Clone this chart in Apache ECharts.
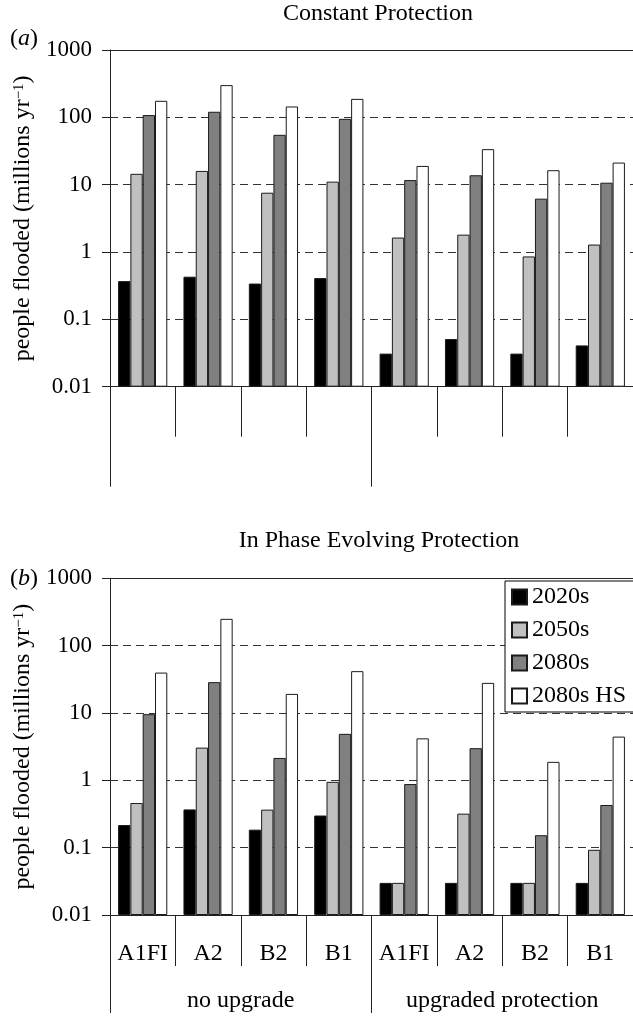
<!DOCTYPE html>
<html>
<head>
<meta charset="utf-8">
<script src="https://cdn.jsdelivr.net/npm/echarts@6/dist/echarts.min.js"></script>
<style>
html,body{margin:0;padding:0;background:#fff;}
#chart{width:633px;height:1016px;}
</style>
</head>
<body>
<div id="chart"></div>
<script>
const categories = ['A1FI', 'A2', 'B2', 'B1', 'A1FI', 'A2', 'B2', 'B1'];
const groups = ['no upgrade', 'upgraded protection'];
const seriesNames = ['2020s', '2050s', '2080s', '2080s HS'];
const yTickLabels = ['0.01', '0.1', '1', '10', '100', '1000'];

// (a) Constant Protection
const cp2020s = [0.37, 0.43, 0.34, 0.41, 0.031, 0.051, 0.031, 0.041];
const cp2050s = [14.5, 16, 7.6, 11.1, 1.64, 1.81, 0.86, 1.29];
const cp2080s = [108, 121, 55, 95, 11.7, 13.8, 6.2, 10.7];
const cp2080sHS = [176, 301, 145, 188, 19, 33.7, 16.4, 21.3];

// (b) In Phase Evolving Protection
const ip2020s = [0.217, 0.37, 0.185, 0.30, 0.03, 0.03, 0.03, 0.03];
const ip2050s = [0.46, 3.06, 0.367, 0.95, 0.03, 0.32, 0.03, 0.093];
const ip2080s = [9.6, 28.7, 2.15, 4.9, 0.88, 3.0, 0.153, 0.43];
const ip2080sHS = [39.8, 250, 19.2, 41.8, 4.2, 28, 1.88, 4.46];

const FONT = "'Liberation Serif', 'Times New Roman', serif";
const LINE = '#222';
const colors = ['#000000', '#c0c0c0', '#808080', '#ffffff'];

const chart = echarts.init(document.getElementById('chart'), null, {renderer: 'canvas'});

function yAxis(gridIndex) {
  return {
    type: 'log', gridIndex: gridIndex, logBase: 10, min: 0.01, max: 1000, startValue: 0.01,
    axisLine: {show: true, lineStyle: {color: LINE, width: 1}},
    axisTick: {show: true, length: 8, lineStyle: {color: LINE, width: 1}},
    axisLabel: {
      margin: 18, fontSize: 23, fontFamily: FONT, color: '#000',
      formatter: function (v) { return yTickLabels[Math.round(Math.log10(v)) + 2]; }
    },
    splitLine: {show: true, lineStyle: {type: [8, 5], color: '#333', width: 1}},
    name: 'people flooded (millions yr{sup|\u22121})',
    nameLocation: 'middle', nameRotate: 90, nameGap: 70,
    nameTextStyle: {
      fontSize: 24, fontFamily: FONT, color: '#000',
      rich: {sup: {fontSize: 15, fontFamily: FONT, color: '#000', verticalAlign: 'top', lineHeight: 14}}
    }
  };
}

function catAxis(gridIndex, showLabel, tickLen) {
  return {
    type: 'category', gridIndex: gridIndex, data: categories, position: 'bottom',
    axisLine: {show: true, onZero: false, lineStyle: {color: LINE, width: 1}},
    axisTick: {show: true, interval: 0, length: tickLen, lineStyle: {color: LINE, width: 1}},
    axisLabel: {show: showLabel, interval: 0, margin: 27, fontSize: 24, fontFamily: FONT, color: '#000'},
    splitLine: {show: false}
  };
}
function groupAxis(gridIndex, showLabel, tickLen) {
  return {
    type: 'category', gridIndex: gridIndex, data: groups, position: 'bottom',
    axisLine: {show: false, onZero: false},
    axisTick: {show: true, interval: 0, length: tickLen, lineStyle: {color: LINE, width: 1}},
    axisLabel: {show: showLabel, interval: 0, margin: 74, fontSize: 24, fontFamily: FONT, color: '#000'},
    splitLine: {show: false}
  };
}
function frameAxis(gridIndex) {
  return {
    type: 'category', gridIndex: gridIndex, data: categories, position: 'top',
    axisLine: {show: true, onZero: false, lineStyle: {color: LINE, width: 1}},
    axisTick: {show: false}, axisLabel: {show: false}, splitLine: {show: false}
  };
}

const panelData = [
  [cp2020s, cp2050s, cp2080s, cp2080sHS],
  [ip2020s, ip2050s, ip2080s, ip2080sHS]
];
const series = [];
panelData.forEach(function (panel, p) {
  panel.forEach(function (vals, s) {
    series.push({
      type: 'bar', name: seriesNames[s],
      xAxisIndex: p * 3, yAxisIndex: p,
      data: vals, barWidth: 12.3, barGap: '0%',
      itemStyle: {color: colors[s], borderColor: '#1a1a1a', borderWidth: 1},
      emphasis: {disabled: true},
      animation: false
    });
  });
});

const option = {
  animation: false,
  backgroundColor: '#fff',
  textStyle: {fontFamily: FONT},
  title: [
    {text: 'Constant Protection', left: 378, top: 2, textAlign: 'center', padding: 0,
      textStyle: {fontSize: 24, fontWeight: 'normal', fontFamily: FONT, color: '#000'}},
    {text: 'In Phase Evolving Protection', left: 379, top: 529, textAlign: 'center', padding: 0,
      textStyle: {fontSize: 24, fontWeight: 'normal', fontFamily: FONT, color: '#000'}}
  ],
  graphic: [
    {type: 'text', left: 10, top: 27, style: {
      text: '({i|a})', fontSize: 24, fontFamily: FONT, fill: '#000',
      rich: {i: {fontStyle: 'italic', fontSize: 24, fontFamily: FONT, fill: '#000'}}}},
    {type: 'text', left: 10, top: 567, style: {
      text: '({i|b})', fontSize: 24, fontFamily: FONT, fill: '#000',
      rich: {i: {fontStyle: 'italic', fontSize: 24, fontFamily: FONT, fill: '#000'}}}}
  ],
  legend: {
    data: seriesNames, orient: 'vertical', left: 505, top: 581,
    icon: 'rect', itemWidth: 15, itemHeight: 15, itemGap: 9,
    padding: [4, 40, 4, 6], borderColor: '#000', borderWidth: 1, backgroundColor: '#fff',
    selectedMode: false,
    textStyle: {fontSize: 24, fontFamily: FONT, color: '#000'}
  },
  grid: [
    {left: 110, top: 50, width: 530, height: 336.7, containLabel: false},
    {left: 110, top: 578.3, width: 530, height: 336.7, containLabel: false}
  ],
  xAxis: [
    catAxis(0, false, 50), groupAxis(0, false, 100), frameAxis(0),
    catAxis(1, true, 51), groupAxis(1, true, 98), frameAxis(1)
  ],
  yAxis: [yAxis(0), yAxis(1)],
  series: series
};
chart.setOption(option);
</script>
</body>
</html>
